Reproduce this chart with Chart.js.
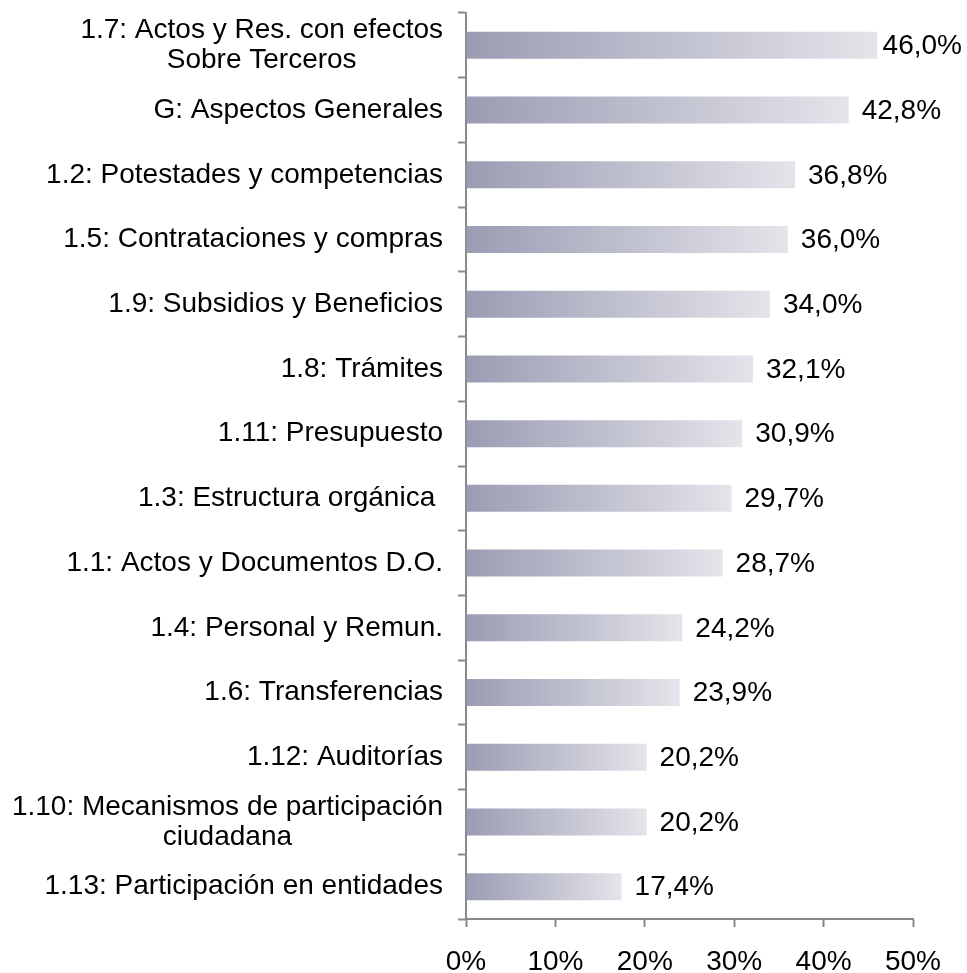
<!DOCTYPE html>
<html>
<head>
<meta charset="utf-8">
<script src="https://cdn.jsdelivr.net/npm/chart.js@4/dist/chart.umd.min.js"></script>
<style>
  html, body { margin: 0; padding: 0; background: #ffffff; }
  #wrap { width: 967px; height: 973px; position: relative; }
</style>
</head>
<body>
<div id="wrap"><canvas id="c"></canvas></div>
<script>
const categories = [
  ["1.7: Actos y Res. con efectos", "Sobre Terceros"],
  ["G: Aspectos Generales"],
  ["1.2: Potestades y competencias"],
  ["1.5: Contrataciones y compras"],
  ["1.9: Subsidios y Beneficios"],
  ["1.8: Trámites"],
  ["1.11: Presupuesto"],
  ["1.3: Estructura orgánica "],
  ["1.1: Actos y Documentos D.O."],
  ["1.4: Personal y Remun."],
  ["1.6: Transferencias"],
  ["1.12: Auditorías"],
  ["1.10: Mecanismos de participación", "ciudadana"],
  ["1.13: Participación en entidades"]
];
const values = [46.0, 42.8, 36.8, 36.0, 34.0, 32.1, 30.9, 29.7, 28.7, 24.2, 23.9, 20.2, 20.2, 17.4];
const xTickValues = [0, 10, 20, 30, 40, 50];

const FONT = "'Liberation Sans', Arial, Helvetica, sans-serif";
const AXIS_COLOR = '#898989';

function fmtPct(v) { return v.toFixed(1).replace('.', ',') + '%'; }

const labelPlugin = {
  id: 'customLabels',
  afterDraw(chart) {
    const ctx = chart.ctx;
    const ys = chart.scales.y;
    const opts = ys.options;
    ctx.save();
    ctx.fillStyle = '#000000';
    ctx.font = '28px ' + FONT;
    ctx.textBaseline = 'middle';
    const xr = ys.right - opts.grid.tickLength - 15;
    const lh = 30;
    categories.forEach((lines, i) => {
      const cy = ys.getPixelForValue(i);
      const widths = lines.map(l => ctx.measureText(l).width);
      const maxW = Math.max(...widths);
      ctx.textAlign = 'center';
      lines.forEach((l, j) => {
        const y = cy + (j - (lines.length - 1) / 2) * lh;
        ctx.fillText(l, xr - maxW / 2, y);
      });
    });
    const meta = chart.getDatasetMeta(0);
    ctx.textAlign = 'left';
    meta.data.forEach((bar, i) => {
      const txt = fmtPct(values[i]);
      const w = ctx.measureText(txt).width;
      let x = bar.x + 13;
      if (x + w > chart.width - 5) x = chart.width - 5 - w;
      ctx.fillText(txt, x, bar.y + 1);
    });
    ctx.restore();
  }
};

new Chart(document.getElementById('c'), {
  type: 'bar',
  data: {
    labels: categories,
    datasets: [{
      data: values,
      borderWidth: 0,
      categoryPercentage: 1,
      barPercentage: 0.417,
      backgroundColor: (c) => {
        const chart = c.chart;
        if (!chart.chartArea || c.type !== 'data') return '#b8b9c9';
        const xs = chart.scales.x;
        const x0 = xs.getPixelForValue(0);
        const x1 = xs.getPixelForValue(c.raw);
        if (!isFinite(x0) || !isFinite(x1) || x1 <= x0) return '#b8b9c9';
        const g = chart.ctx.createLinearGradient(x0, 0, x1, 0);
        g.addColorStop(0, '#9a9cb3');
        g.addColorStop(1, '#e4e4ea');
        return g;
      }
    }]
  },
  options: {
    indexAxis: 'y',
    responsive: true,
    maintainAspectRatio: false,
    animation: false,
    layout: { padding: { top: 13, right: 54, left: 0, bottom: 0 } },
    plugins: {
      legend: { display: false },
      tooltip: { enabled: false }
    },
    scales: {
      x: {
        type: 'linear',
        min: 0,
        max: 50,
        afterBuildTicks: (s) => { s.ticks = xTickValues.map(v => ({ value: v })); },
        afterFit: (s) => { s.height = 54; },
        ticks: {
          callback: (v) => v + '%',
          color: '#000000',
          font: { family: FONT, size: 28, lineHeight: 1 },
          padding: 21,
          maxRotation: 0,
          autoSkip: false
        },
        grid: {
          drawOnChartArea: false,
          drawTicks: true,
          tickLength: 8,
          tickColor: AXIS_COLOR,
          tickWidth: 2,
          color: AXIS_COLOR
        },
        border: { display: true, color: AXIS_COLOR, width: 2 }
      },
      y: {
        z: 1,
        afterFit: (s) => { s.width = 466; },
        ticks: {
          color: 'rgba(0,0,0,0)',
          font: { family: FONT, size: 1, lineHeight: 1 },
          padding: 0,
          autoSkip: false
        },
        grid: {
          offset: true,
          drawOnChartArea: false,
          drawTicks: true,
          tickLength: 8,
          tickColor: AXIS_COLOR,
          tickWidth: 2,
          color: AXIS_COLOR
        },
        border: { display: true, color: AXIS_COLOR, width: 2 }
      }
    }
  },
  plugins: [labelPlugin]
});
</script>
</body>
</html>
